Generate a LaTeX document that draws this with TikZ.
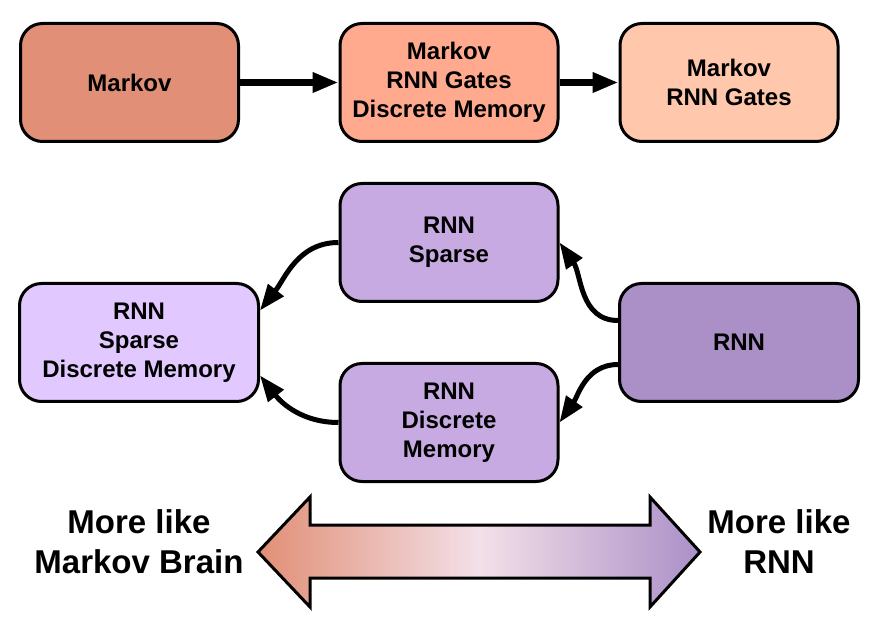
\documentclass[tikz,border=0pt]{standalone}
\usepackage{fontspec}
\setmainfont{Liberation Sans}
\usetikzlibrary{arrows.meta}
\definecolor{markovc}{RGB}{225,143,118}
\definecolor{gatesc}{RGB}{255,170,142}
\definecolor{gatesonlyc}{RGB}{255,200,172}
\definecolor{midrnnc}{RGB}{198,170,225}
\definecolor{rnnc}{RGB}{170,144,199}
\definecolor{fullc}{RGB}{225,201,255}
\definecolor{pale}{RGB}{243,224,232}
\tikzset{
	>={Triangle[length=26pt,width=19pt]},
	boks/.style={
		rectangle,
		draw=black,
		line width=3pt,
		rounded corners=22pt,
		minimum width=218pt,
		minimum height=118pt,
		align=center,
		font=\fontsize{24}{29}\selectfont\bfseries
	},
	wide/.style={boks, minimum width=239pt},
	pil/.style={->, line width=6.5pt},
	bue/.style={->, line width=5pt},
	side/.style={align=center, font=\fontsize{33}{40}\selectfont\bfseries}
}
\begin{document}
\begin{tikzpicture}[x=1pt, y=-1pt]
		\useasboundingbox (0,0) rectangle (879,636);

		\node [boks, fill=markovc] (markov) at (129.5,82.5) {Markov};
		\node [boks, fill=gatesc, right of=markov, node distance=319.5pt] (gates) {Markov\\RNN Gates\\Discrete Memory};
		\node [boks, fill=gatesonlyc, right of=gates, node distance=280pt] (gatesonly) {Markov\\RNN Gates};

		\node [boks, fill=midrnnc, below of=gates, node distance=160pt] (sparse) {RNN\\Sparse};
		\node [boks, fill=midrnnc, below of=sparse, node distance=180pt] (discrete) {RNN\\Discrete\\Memory};
		\node [wide, fill=fullc] (full) at (139,342.5) {RNN\\Sparse\\Discrete Memory};
		\node [wide, fill=rnnc] (rnn) at (739,342.5) {RNN};

		\draw [pil] (markov) -- (gates);
		\draw [pil] (gates) -- (gatesonly);

		% curved links through the middle row
		\draw [bue] ([yshift=22pt]rnn.west) to[out=180, in=-55] (sparse.east);
		\draw [bue] ([yshift=-22pt]rnn.west) to[out=180, in=55] (discrete.east);
		\draw [bue] (sparse.west) to[out=180, in=52] ([yshift=32pt]full.east);
		\draw [bue] (discrete.west) to[out=180, in=-52] ([yshift=-33pt]full.east);

		% scale at the bottom
		\draw [line width=3pt, line join=miter, left color=markovc, right color=rnnc, middle color=pale]
			(258,552) -- (310,497) -- (310,525) -- (650,525) -- (650,497) -- (700,552)
			-- (650,607) -- (650,578) -- (310,578) -- (310,607) -- cycle;
		\node [side] (markovend) at (139,542) {More like\\Markov Brain};
		\node [side] (rnnend) at (779,542) {More like\\RNN};
	\end{tikzpicture}
\end{document}
